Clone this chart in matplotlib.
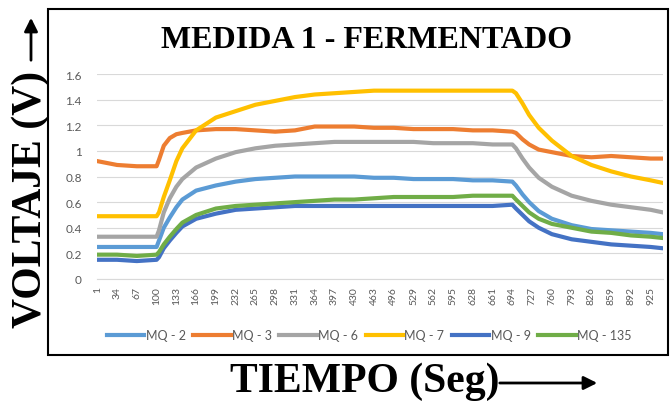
import matplotlib.pyplot as plt
from matplotlib.patches import Rectangle

# sample times (s)
tiempo = [1, 34, 67, 100, 104, 112, 122, 133, 143, 166, 199, 232, 265, 298, 331,
          364, 397, 430, 463, 496, 529, 562, 595, 628, 661, 694, 700, 711, 722,
          738, 760, 793, 826, 859, 892, 925, 945]

mq2 = [0.25, 0.25, 0.25, 0.25, 0.30, 0.40, 0.48, 0.56, 0.62, 0.69, 0.73, 0.76, 0.78,
       0.79, 0.80, 0.80, 0.80, 0.80, 0.79, 0.79, 0.78, 0.78, 0.78, 0.77, 0.77, 0.76,
       0.73, 0.66, 0.60, 0.53, 0.47, 0.42, 0.39, 0.38, 0.37, 0.36, 0.35]
mq3 = [0.92, 0.89, 0.88, 0.88, 0.93, 1.04, 1.10, 1.13, 1.14, 1.16, 1.17, 1.17, 1.16,
       1.15, 1.16, 1.19, 1.19, 1.19, 1.18, 1.18, 1.17, 1.17, 1.17, 1.16, 1.16, 1.15,
       1.14, 1.09, 1.05, 1.01, 0.99, 0.96, 0.95, 0.96, 0.95, 0.94, 0.94]
mq6 = [0.33, 0.33, 0.33, 0.33, 0.38, 0.52, 0.63, 0.72, 0.78, 0.87, 0.94, 0.99, 1.02,
       1.04, 1.05, 1.06, 1.07, 1.07, 1.07, 1.07, 1.07, 1.06, 1.06, 1.06, 1.05, 1.05,
       1.02, 0.94, 0.87, 0.79, 0.72, 0.65, 0.61, 0.58, 0.56, 0.54, 0.52]
mq7 = [0.49, 0.49, 0.49, 0.49, 0.52, 0.64, 0.77, 0.92, 1.02, 1.16, 1.26, 1.31, 1.36,
       1.39, 1.42, 1.44, 1.45, 1.46, 1.47, 1.47, 1.47, 1.47, 1.47, 1.47, 1.47, 1.47,
       1.45, 1.37, 1.28, 1.18, 1.08, 0.96, 0.89, 0.84, 0.80, 0.77, 0.75]
mq9 = [0.15, 0.15, 0.14, 0.15, 0.17, 0.24, 0.30, 0.36, 0.41, 0.47, 0.51, 0.54, 0.55,
       0.56, 0.57, 0.57, 0.57, 0.57, 0.57, 0.57, 0.57, 0.57, 0.57, 0.57, 0.57, 0.58,
       0.55, 0.50, 0.45, 0.40, 0.35, 0.31, 0.29, 0.27, 0.26, 0.25, 0.24]
mq135 = [0.19, 0.19, 0.18, 0.19, 0.21, 0.27, 0.33, 0.39, 0.44, 0.50, 0.55, 0.57, 0.58,
         0.59, 0.60, 0.61, 0.62, 0.62, 0.63, 0.64, 0.64, 0.64, 0.64, 0.65, 0.65, 0.65,
         0.62, 0.57, 0.52, 0.47, 0.43, 0.40, 0.37, 0.36, 0.34, 0.33, 0.32]

series = [("MQ - 2", mq2, "#5B9BD5"), ("MQ - 3", mq3, "#ED7D31"),
          ("MQ - 6", mq6, "#A5A5A5"), ("MQ - 7", mq7, "#FFC000"),
          ("MQ - 9", mq9, "#4472C4"), ("MQ - 135", mq135, "#70AD47")]

xticks = list(range(1, 945, 33))
yticks = [0, 0.2, 0.4, 0.6, 0.8, 1, 1.2, 1.4, 1.6]
ylabels = ["0", "0.2", "0.4", "0.6", "0.8", "1", "1.2", "1.4", "1.6"]

fig = plt.figure(figsize=(6.7, 4.02), dpi=100)
ax = fig.add_axes([97 / 670, 1 - 280 / 402, 566 / 670, 205 / 402])

for name, vals, col in series:
    ax.plot(tiempo, vals, color=col, lw=3, label=name, solid_joinstyle="round")

ax.set_xlim(0.5, 945.5)
ax.set_ylim(0, 1.6)
ax.set_xticks(xticks)
ax.set_xticklabels([str(t) for t in xticks], rotation=90, fontsize=7.5,
                   color="#595959", family="Lato")
ax.set_yticks(yticks)
ax.set_yticklabels(ylabels, fontsize=8.5, color="#595959", family="Lato")
ax.tick_params(axis="both", length=0)
ax.tick_params(axis="y", pad=11)
ax.tick_params(axis="x", pad=5)
ax.grid(axis="y", color="#D9D9D9", lw=0.8)
ax.set_axisbelow(True)
for s in ["top", "right", "left"]:
    ax.spines[s].set_visible(False)
ax.spines["bottom"].set_color("#D9D9D9")

fig.legend(loc="center", bbox_to_anchor=(0.551, 1 - 336 / 402), ncol=6,
           frameon=False, handlelength=3.0, columnspacing=0.6,
           handletextpad=0.1, prop={"family": "Lato", "size": 9},
           labelcolor="#595959")

# outer frame
fig.patches.append(Rectangle((48 / 670, 1 - 356 / 402), 620 / 670, 346 / 402,
                             transform=fig.transFigure, fill=False,
                             edgecolor="black", lw=1.5))

fig.text(0.547, 1 - 41 / 402, "MEDIDA 1 - FERMENTADO", ha="center", va="center",
         fontsize=23, fontweight="bold", family="Liberation Serif")

fig.text(31 / 670, 1 - 199 / 402, "VOLTAJE (V)", ha="center", va="center",
         rotation=90, fontsize=30, fontweight="bold", family="Liberation Serif")
fig.text(365 / 670, 1 - 382 / 402, "TIEMPO (Seg)", ha="center", va="center",
         fontsize=30, fontweight="bold", family="Liberation Serif")

# arrows next to the axis titles
fig.add_artist(plt.Annotation("", xy=(31 / 670, 1 - 16 / 402), xytext=(31 / 670, 1 - 64 / 402),
                              xycoords="figure fraction", textcoords="figure fraction",
                              arrowprops=dict(arrowstyle="-|>", color="black", lw=2,
                                              mutation_scale=20)))
fig.add_artist(plt.Annotation("", xy=(600 / 670, 1 - 384 / 402), xytext=(497 / 670, 1 - 384 / 402),
                              xycoords="figure fraction", textcoords="figure fraction",
                              arrowprops=dict(arrowstyle="-|>", color="black", lw=2,
                                              mutation_scale=20)))

fig.savefig("out.png", dpi=100)
